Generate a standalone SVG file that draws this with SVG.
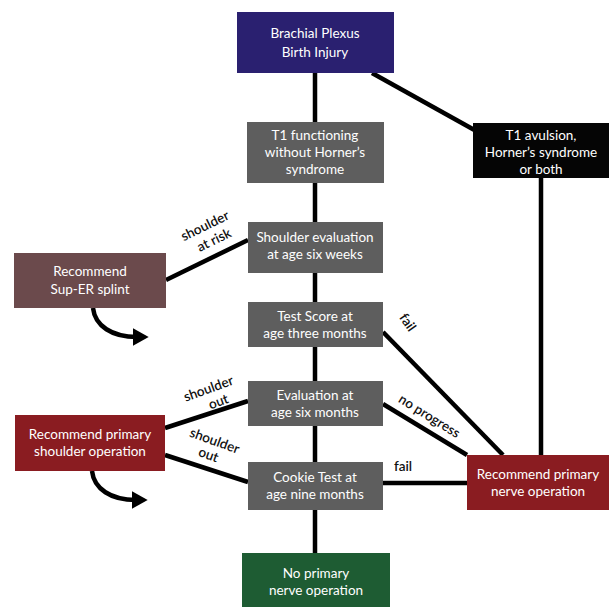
<svg xmlns="http://www.w3.org/2000/svg" width="609" height="607" viewBox="0 0 609 607">
<style>
.t{font-family:Lato,"Open Sans","Liberation Sans",sans-serif;font-size:13.5px;fill:#fff;text-anchor:middle}
.l{font-family:Lato,"Open Sans","Liberation Sans",sans-serif;font-size:13.5px;font-weight:600;fill:#111;text-anchor:middle}
.c{stroke:#000;stroke-width:4.5;fill:none}
</style>
<defs>
<marker id="ah" markerWidth="3.6" markerHeight="4" refX="1" refY="2" orient="auto" markerUnits="strokeWidth">
<path d="M0,0 L3.6,2 L0,4 Z" fill="#000"/>
</marker>
</defs>
<rect width="609" height="607" fill="#fff"/>
<g id="connectors">
<line class="c" x1="315" y1="73" x2="315" y2="553"/>
<line class="c" x1="372" y1="73" x2="478" y2="132"/>
<line class="c" x1="541" y1="178" x2="541" y2="455"/>
<line class="c" x1="166" y1="280" x2="248" y2="240"/>
<line class="c" x1="383" y1="332" x2="503" y2="455"/>
<line class="c" x1="383" y1="404" x2="467" y2="455"/>
<line class="c" x1="165" y1="428" x2="248" y2="401"/>
<line class="c" x1="165" y1="455" x2="248" y2="482"/>
<line class="c" x1="383" y1="483" x2="467" y2="483"/>
<path class="c" d="M93,308 C95,326 112,337 137,337" marker-end="url(#ah)"/>
<path class="c" d="M92,471 C94,489 111,500 136,500" marker-end="url(#ah)"/>
<text class="l" transform="translate(207,230) rotate(-26)">shoulder</text>
<text class="l" transform="translate(216,244) rotate(-26)">at risk</text>
<text class="l" transform="translate(404,325) rotate(55)">fail</text>
<text class="l" transform="translate(427,420) rotate(32)">no progress</text>
<text class="l" transform="translate(210,393) rotate(-20)">shoulder</text>
<text class="l" transform="translate(220,406) rotate(-20)">out</text>
<text class="l" transform="translate(213,445) rotate(20)">shoulder</text>
<text class="l" transform="translate(207,459) rotate(20)">out</text>
<text class="l" x="403" y="471">fail</text>
</g>
<g id="n1">
<rect x="237" y="12" width="157" height="61" fill="#2a2070"/>
<text class="t" x="315" y="38">Brachial Plexus</text>
<text class="t" x="315" y="57">Birth Injury</text>
</g>
<g id="n2">
<rect x="247" y="122" width="137" height="61" fill="#5e5e5e"/>
<text class="t" x="315" y="140">T1 functioning</text>
<text class="t" x="315" y="157">without Horner’s</text>
<text class="t" x="315" y="174">syndrome</text>
</g>
<g id="n3">
<rect x="473" y="123" width="136" height="55" fill="#050505"/>
<text class="t" x="541" y="140">T1 avulsion,</text>
<text class="t" x="541" y="157">Horner’s syndrome</text>
<text class="t" x="541" y="174">or both</text>
</g>
<g id="n4">
<rect x="248" y="222" width="135" height="51" fill="#5e5e5e"/>
<text class="t" x="315" y="242">Shoulder evaluation</text>
<text class="t" x="315" y="259">at age six weeks</text>
</g>
<g id="n5">
<rect x="14" y="253" width="152" height="55" fill="#6b4a4c"/>
<text class="t" x="90" y="276">Recommend</text>
<text class="t" x="90" y="294">Sup-ER splint</text>
</g>
<g id="n6">
<rect x="248" y="302" width="135" height="45" fill="#5e5e5e"/>
<text class="t" x="315" y="321">Test Score at</text>
<text class="t" x="315" y="338">age three months</text>
</g>
<g id="n7">
<rect x="248" y="381" width="135" height="45" fill="#5e5e5e"/>
<text class="t" x="315" y="400">Evaluation at</text>
<text class="t" x="315" y="417">age six months</text>
</g>
<g id="n8">
<rect x="15" y="415" width="150" height="56" fill="#8a1c21"/>
<text class="t" x="90" y="439">Recommend primary</text>
<text class="t" x="90" y="456">shoulder operation</text>
</g>
<g id="n9">
<rect x="248" y="462" width="135" height="48" fill="#5e5e5e"/>
<text class="t" x="315" y="482">Cookie Test at</text>
<text class="t" x="315" y="499">age nine months</text>
</g>
<g id="n10">
<rect x="467" y="455" width="142" height="55" fill="#8a1c21"/>
<text class="t" x="538" y="479">Recommend primary</text>
<text class="t" x="538" y="496">nerve operation</text>
</g>
<g id="n11">
<rect x="242" y="553" width="148" height="54" fill="#1e5c33"/>
<text class="t" x="316" y="578">No primary</text>
<text class="t" x="316" y="595">nerve operation</text>
</g>
</svg>
